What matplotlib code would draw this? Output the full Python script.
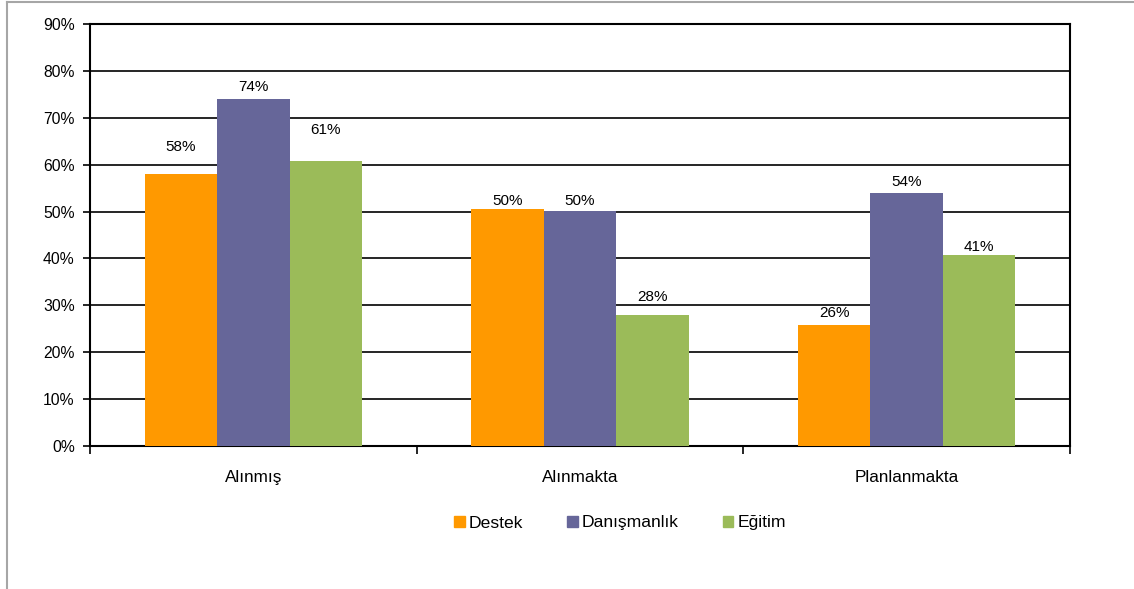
import matplotlib
matplotlib.use("Agg")
import matplotlib.pyplot as plt
import numpy as np
from matplotlib.lines import Line2D

categories = ["Alınmış", "Alınmakta", "Planlanmakta"]
series_names = ["Destek", "Danışmanlık", "Eğitim"]
destek = [58.0, 50.5, 25.7]
danismanlik = [74.0, 50.2, 54.0]
egitim = [60.8, 28.0, 40.7]
colors = ["#FF9900", "#666699", "#9BBB59"]
yticks = [0, 10, 20, 30, 40, 50, 60, 70, 80, 90]
# label offsets above bar top (pixels), per series per category
label_offsets_px = [[27, 8, 12], [12, 10, 11], [31, 18, 8]]

plt.rcParams['font.family'] = ['Liberation Sans', 'DejaVu Sans']

fig = plt.figure(figsize=(11.34, 5.89), dpi=100)
ax = fig.add_axes([90/1134, 1-446/589, (1070-90)/1134, (446-24)/589])
px_per_unit = (446-24)/90.0

x = np.arange(len(categories))
w = 0.222
data = [destek, danismanlik, egitim]
for i, (vals, name, c) in enumerate(zip(data, series_names, colors)):
    pos = x + (i-1)*w
    ax.bar(pos, vals, width=w, color=c, label=name, zorder=3)
    for j, (p, v) in enumerate(zip(pos, vals)):
        ax.text(p, v + label_offsets_px[i][j]/px_per_unit, f"{v:.0f}%", ha='center', va='center',
                fontsize=11, color='black', zorder=4)

ax.set_xlim(-0.5, len(categories)-0.5)
ax.set_ylim(0, 90)
ax.set_yticks(yticks)
ax.set_yticklabels([f"{t}%" for t in yticks], fontsize=11.3)
ax.yaxis.grid(True, color='black', linewidth=1.2, zorder=0)
ax.set_axisbelow(True)
ax.set_xticks(np.arange(len(categories)+1) - 0.5)
ax.set_xticklabels([])
ax.set_xticks(x, minor=True)
ax.set_xticklabels(categories, minor=True, fontsize=12.3)
ax.tick_params(axis='x', which='minor', length=0, pad=17)
ax.tick_params(axis='x', which='major', length=6, width=1.2, direction='out')
ax.tick_params(axis='y', length=5, width=1.2, direction='out', pad=6)
for s in ax.spines.values():
    s.set_color('black')
    s.set_linewidth(1.5)

handles = [plt.Rectangle((0, 0), 1, 1, color=c) for c in colors]
fig.legend(handles, series_names, loc='center', bbox_to_anchor=(620/1134, 1-523/589),
           ncol=3, frameon=False, fontsize=12.6, handlelength=0.6, handleheight=0.6,
           handletextpad=0.25, columnspacing=2.5)

# outer border (top and left)
fig.add_artist(Line2D([7/1134, 1], [1-2/589, 1-2/589], color='#A6A6A6', linewidth=1.5, transform=fig.transFigure))
fig.add_artist(Line2D([7/1134, 7/1134], [0, 1-2/589], color='#A6A6A6', linewidth=1.5, transform=fig.transFigure))

fig.savefig("out.png", dpi=100, facecolor='white')
